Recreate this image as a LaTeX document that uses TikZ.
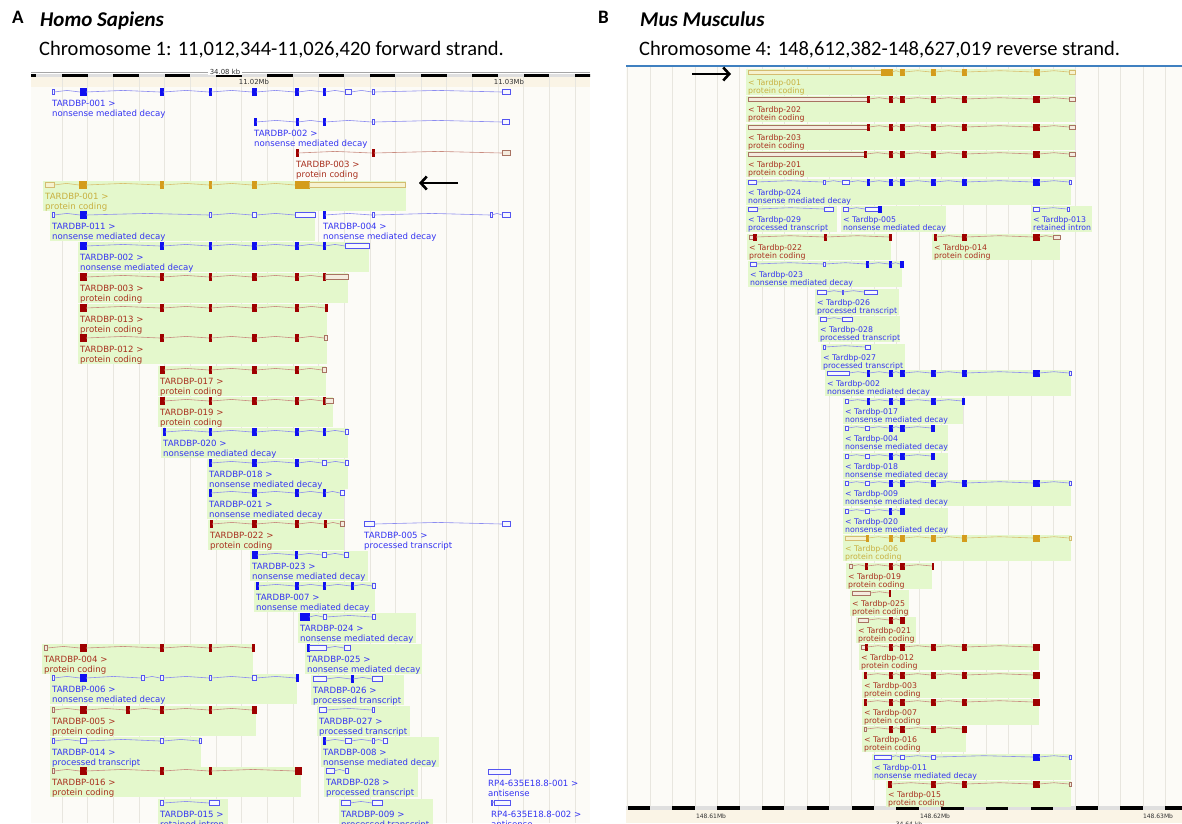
\documentclass[tikz,border=0pt]{standalone}
\usepackage{fontspec}
\setmainfont{Carlito}
\newfontfamily\ensfont{DejaVu Sans}
\usetikzlibrary{arrows.meta}
\definecolor{nmdexon}{HTML}{1010F0}
\definecolor{nmdopen}{HTML}{5454F0}
\definecolor{nmdfill}{HTML}{F6F7FF}
\definecolor{nmdintron}{HTML}{8C8CF0}
\definecolor{nmdtext}{HTML}{3434F2}
\definecolor{pcexon}{HTML}{9E0000}
\definecolor{pcopen}{HTML}{A87262}
\definecolor{pcfill}{HTML}{F4ECDF}
\definecolor{pcintron}{HTML}{C98C80}
\definecolor{pctext}{HTML}{A8301E}
\definecolor{selexon}{HTML}{D49C1C}
\definecolor{selopen}{HTML}{D4BC70}
\definecolor{selfill}{HTML}{F6F2CF}
\definecolor{selintron}{HTML}{D9C070}
\definecolor{seltext}{HTML}{C8B040}
\definecolor{hilite}{HTML}{E4F8CC}
\definecolor{panelbg}{HTML}{FCFBF7}
\definecolor{gridline}{HTML}{E8E6DF}
\definecolor{bandbg}{HTML}{FAF4E6}
\definecolor{ensblue}{HTML}{3F80C0}

% one transcript: #1 name, #2 colour key (nmd/pc/sel), #3 line y, #4 label x,
% #5 right edge of the green highlight (empty = none), #6 exons x1/x2/f|o,
% #7 transcript name, #8 biotype
\newcommand{\transcript}[8]{%
  \if\relax\detokenize{#5}\relax\else
    \fill[hilite] (#4-2,#3-\boxup) rectangle (#5,#3+\boxdn);
  \fi
  \foreach \xa/\xb/\kind [remember=\xb as \lastx (initially 0)] in {#6} {%
    \ifdim\lastx pt>0pt
      \draw[color=#2intron, line width=0.6pt] (\lastx,#3) -- ({(\lastx+\xa)/2},#3-\hatup) -- (\xa,#3);
    \fi
    \if f\kind
      \filldraw[fill=#2exon, draw=#2exon, line width=0.4pt] (\xa,#3-\fullh) rectangle (\xb,#3+\fullh);
    \else
      \filldraw[fill=#2fill, draw=#2open, line width=0.6pt] (\xa,#3-\openh) rectangle (\xb,#3+\openh);
    \fi
  }
  \node[lbl, text=#2text] (#1-name) at (#4,#3+\basea) {#7};
  \node[lbl, text=#2text] (#1-type) at (#4,#3+\baseb) {#8};
}

\begin{document}
\begin{tikzpicture}[
    x=1pt, y=-1pt,
    head/.style={anchor=base west, inner sep=0pt},
    rulerlbl/.style={inner sep=0pt, font=\ensfont\fontsize{6.9}{8}\selectfont, text=black!80},
    gridrule/.style={draw=gridline, line width=0.6pt},
    pointer/.style={-{Straight Barb[length=6pt,width=13pt]}, line width=2.6pt},
]
\fill[white] (0,0) rectangle (1182,823);
\useasboundingbox (0,0) rectangle (1182,823);

% Panel titles
\node[head, font=\bfseries\fontsize{19}{22}\selectfont] (tagA) at (12,23) {A};
\node[head, font=\bfseries\itshape\fontsize{21}{24}\selectfont] (speciesA) at (40,26) {Homo Sapiens};
\node[head, font=\fontsize{20.5}{24}\selectfont] (locusA) at (39,55) {Chromosome 1: 11,012,344-11,026,420 forward strand.};
\node[head, font=\bfseries\fontsize{19}{22}\selectfont] (tagB) at (598,23) {B};
\node[head, font=\bfseries\itshape\fontsize{21}{24}\selectfont] (speciesB) at (640,26) {Mus Musculus};
\node[head, font=\fontsize{20.5}{24}\selectfont] (locusB) at (639,55) {Chromosome 4: 148,612,382-148,627,019 reverse strand.};

% ---- LEFT: human transcripts ----
\begin{scope}[lbl/.style={anchor=base west, inner sep=0pt, font=\ensfont\fontsize{8.6}{10}\selectfont}]
\def\boxup{4}\def\boxdn{25.5}\def\fullh{3.5}\def\openh{2.5}\def\hatup{1.6}\def\basea{14}\def\baseb{24.3}
\clip (31,66) rectangle (590,823);
\fill[panelbg] (31,77) rectangle (590,823);
\fill[bandbg] (31,77) rectangle (590,87);
\foreach \k in {0,...,21} \draw[gridrule] ({62+25.65*\k},77) -- ({62+25.65*\k},823);
\draw[gray!70, line width=0.6pt] (31,72) -- (590,72);
\fill[gray!25] (31,74) rectangle (590,77);
\foreach \k in {-1,...,10} \fill[black] ({62+51.3*\k},74) rectangle ({87.65+51.3*\k},77);
\node[rulerlbl, fill=white, inner xsep=2pt] (kbA) at (225,72) {34.08 kb};
\node[rulerlbl] (mbA1) at (254,82) {11.02Mb};
\node[rulerlbl] (mbA2) at (509,82) {11.03Mb};

\transcript{l001n}{nmd}{92}{52}{}{52/54/o,80/86/f,160/163/f,209/211/f,252/256/f,295/298/f,323/325/f,345/351/o,372/374/o,502/510/o}{TARDBP-001 >}{nonsense mediated decay}
\transcript{l002n}{nmd}{122}{254}{}{254/256/f,296/298/f,323/325/f,372/374/o,502/509/o}{TARDBP-002 >}{nonsense mediated decay}
\transcript{l003n}{pc}{153}{296}{}{296/298/f,372/374/f,502/510/o}{TARDBP-003 >}{protein coding}
\transcript{l001}{sel}{185}{45}{406}{45/54/o,79/86/f,160/163/f,209/211/f,252/256/f,295/309/f,309/405/o}{TARDBP-001 >}{protein coding}
\transcript{l011}{nmd}{215}{52}{315}{52/54/o,80/86/f,209/211/o,252/256/o,295/315/o}{TARDBP-011 >}{nonsense mediated decay}
\transcript{l004n}{nmd}{215}{323}{}{323/325/f,372/374/o,490/492/o,502/510/o}{TARDBP-004 >}{nonsense mediated decay}
\transcript{l002}{nmd}{246}{80}{369}{80/86/f,160/163/f,209/211/f,252/256/f,295/298/f,323/325/f,345/369/o}{TARDBP-002 >}{nonsense mediated decay}
\transcript{l003}{pc}{277}{80}{348}{80/86/f,160/163/f,209/211/f,252/256/f,295/298/f,323/325/f,325/348/o}{TARDBP-003 >}{protein coding}
\transcript{l013}{pc}{308}{80}{327}{80/86/f,160/163/f,209/211/f,252/256/f,295/298/f,325/327/f}{TARDBP-013 >}{protein coding}
\transcript{l012}{pc}{338}{80}{327}{80/86/f,160/163/f,209/211/f,252/256/f,295/298/f,324/327/o}{TARDBP-012 >}{protein coding}
\transcript{l017}{pc}{370}{160}{326}{160/164/f,209/211/f,252/256/f,295/298/f,322/326/o}{TARDBP-017 >}{protein coding}
\transcript{l019}{pc}{401}{160}{333}{160/164/f,209/211/f,252/256/f,295/298/f,323/325/f,325/333/o}{TARDBP-019 >}{protein coding}
\transcript{l020}{nmd}{432}{163}{348}{163/165/f,209/211/f,252/256/f,295/298/f,323/325/f,345/348/o}{TARDBP-020 >}{nonsense mediated decay}
\transcript{l018}{nmd}{463}{209}{348}{209/211/f,252/256/f,295/298/f,322/326/o,345/348/o}{TARDBP-018 >}{nonsense mediated decay}
\transcript{l021}{nmd}{493}{209}{344}{209/211/f,252/256/f,295/298/f,323/325/f,340/344/o}{TARDBP-021 >}{nonsense mediated decay}
\transcript{l022}{pc}{524}{210}{344}{210/212/f,252/256/f,295/298/f,324/326/f,340/344/o}{TARDBP-022 >}{protein coding}
\transcript{l005p}{nmd}{524}{364}{}{364/374/o,502/510/o}{TARDBP-005 >}{processed transcript}
\transcript{l023}{nmd}{555}{252}{368}{252/257/f,295/297/f,322/326/o,344/348/o}{TARDBP-023 >}{nonsense mediated decay}
\transcript{l007}{nmd}{586}{256}{375}{256/258/f,295/298/f,323/325/f,351/353/f,372/375/o}{TARDBP-007 >}{nonsense mediated decay}
\transcript{l024}{nmd}{617}{300}{416}{300/309/f,323/326/o,372/375/o}{TARDBP-024 >}{nonsense mediated decay}
\transcript{l004}{pc}{648}{44}{253}{44/47/o,80/86/f,160/163/f,209/211/f,252/254/f}{TARDBP-004 >}{protein coding}
\transcript{l025}{nmd}{648}{307}{422}{307/309/f,309/326/o,344/350/o}{TARDBP-025 >}{nonsense mediated decay}
\transcript{l006}{nmd}{678}{52}{297}{52/54/o,80/86/f,141/144/o,160/163/o,209/211/o,252/256/o,296/298/f}{TARDBP-006 >}{nonsense mediated decay}
\transcript{l026}{nmd}{679}{313}{404}{313/326/o,351/353/f,372/382/o}{TARDBP-026 >}{processed transcript}
\transcript{l005}{pc}{710}{52}{256}{52/54/o,80/86/f,126/129/f,160/163/f,209/211/f,252/256/f}{TARDBP-005 >}{protein coding}
\transcript{l027}{nmd}{710}{319}{410}{319/326/o,372/374/o}{TARDBP-027 >}{processed transcript}
\transcript{l014}{nmd}{741}{52}{201}{52/54/o,80/86/o,160/163/o,199/201/o}{TARDBP-014 >}{processed transcript}
\transcript{l008}{nmd}{741}{323}{439}{323/325/f,345/351/o,372/374/o,383/387/o}{TARDBP-008 >}{nonsense mediated decay}
\transcript{l016}{pc}{771}{52}{301}{52/54/o,80/86/f,160/163/f,209/211/f,295/301/f}{TARDBP-016 >}{protein coding}
\transcript{l028}{nmd}{771}{326}{418}{326/334/o,345/348/o}{TARDBP-028 >}{processed transcript}
\transcript{rp001}{nmd}{772}{488}{}{488/510/o}{RP4-635E18.8-001 >}{antisense}
\transcript{l015}{nmd}{803}{160}{228}{160/163/o,209/219/o}{TARDBP-015 >}{retained intron}
\transcript{l009}{nmd}{803}{341}{433}{341/350/o,372/382/o}{TARDBP-009 >}{processed transcript}
\transcript{rp002}{nmd}{803}{491}{}{491/492/o,494/510/o}{RP4-635E18.8-002 >}{antisense}
\end{scope}

% ---- RIGHT: mouse transcripts ----
\begin{scope}[lbl/.style={anchor=base west, inner sep=0pt, font=\ensfont\fontsize{7.8}{9}\selectfont}]
\def\boxup{3.5}\def\boxdn{22.7}\def\fullh{2.8}\def\openh{2}\def\hatup{1.3}\def\basea{13.2}\def\baseb{21.6}
\clip (626,64) rectangle (1182,823);
\fill[panelbg] (626,67) rectangle (1182,806);
\foreach \k in {-1,...,24} \draw[gridrule] ({650+22.4*\k},67) -- ({650+22.4*\k},806);
\fill[bandbg] (626,810) rectangle (1182,823);
\fill[gray!25] (626,806) rectangle (1182,810);
\foreach \k in {0,...,12} \fill[black] ({627.6+44.8*\k},806) rectangle ({650+44.8*\k},810);
\node[rulerlbl, font=\ensfont\fontsize{6}{7}\selectfont] (mbB1) at (711,816) {148.61Mb};
\node[rulerlbl, font=\ensfont\fontsize{6}{7}\selectfont] (mbB2) at (935,816) {148.62Mb};
\node[rulerlbl, font=\ensfont\fontsize{6}{7}\selectfont] (mbB3) at (1158,816) {148.63Mb};
\node[rulerlbl, font=\ensfont\fontsize{6}{7}\selectfont] (kbB) at (909,824) {34.64 kb};

\transcript{r001}{sel}{72}{748}{1075}{748/881/o,881/892/f,900/904/f,931/935/f,962/966/f,1034/1039/f,1069/1075/o}{< Tardbp-001}{protein coding}
\transcript{r202}{pc}{99}{748}{1075}{748/867/o,867/869/f,889/892/f,900/904/f,931/935/f,962/966/f,1033/1039/f,1069/1075/o}{< Tardbp-202}{protein coding}
\transcript{r203}{pc}{127}{748}{1075}{748/867/o,867/869/f,889/892/f,900/904/f,931/935/f,962/966/f,1033/1039/f,1069/1075/o}{< Tardbp-203}{protein coding}
\transcript{r201}{pc}{154}{748}{1075}{748/864/o,864/866/f,889/892/f,900/904/f,931/935/f,962/966/f,1033/1039/f,1069/1075/o}{< Tardbp-201}{protein coding}
\transcript{r024}{nmd}{182}{748}{1071}{748/756/o,823/825/o,842/849/o,867/869/f,889/892/f,900/904/f,931/935/f,962/966/f,1033/1039/f,1069/1071/o}{< Tardbp-024}{nonsense mediated decay}
\transcript{r029}{nmd}{209}{748}{837}{748/757/o,824/833/o}{< Tardbp-029}{processed transcript}
\transcript{r005}{nmd}{209}{843}{946}{843/848/o,865/878/o,878/881/f}{< Tardbp-005}{nonsense mediated decay}
\transcript{r013}{nmd}{209}{1033}{1092}{1033/1039/o,1067/1069/o}{< Tardbp-013}{retained intron}
\transcript{r022}{pc}{237}{749}{891}{749/753/o,753/756/f,824/826/f,889/891/f}{< Tardbp-022}{protein coding}
\transcript{r014}{pc}{237}{934}{1060}{934/936/f,962/966/f,1033/1039/f,1053/1060/o}{< Tardbp-014}{protein coding}
\transcript{r023}{nmd}{264}{750}{902}{750/756/o,823/825/o,866/868/f,889/891/f,900/903/f}{< Tardbp-023}{nonsense mediated decay}
\transcript{r026}{nmd}{292}{817}{899}{817/826/o,842/843/o,864/877/o}{< Tardbp-026}{processed transcript}
\transcript{r028}{nmd}{319}{820}{900}{820/826/o,842/852/o}{< Tardbp-028}{processed transcript}
\transcript{r027}{nmd}{347}{823}{905}{823/825/o,865/870/o}{< Tardbp-027}{processed transcript}
\transcript{r002}{nmd}{373}{827}{1071}{827/849/o,867/869/f,889/892/f,900/904/f,931/935/f,962/966/f,1033/1039/f,1069/1071/o}{< Tardbp-002}{nonsense mediated decay}
\transcript{r017}{nmd}{401}{845}{963}{845/848/o,867/869/f,889/892/f,900/904/f,931/935/f,962/964/f}{< Tardbp-017}{nonsense mediated decay}
\transcript{r004}{nmd}{428}{845}{948}{845/848/o,865/869/o,889/892/f,900/904/f,931/934/f}{< Tardbp-004}{nonsense mediated decay}
\transcript{r018}{nmd}{456}{845}{948}{845/848/o,865/869/o,889/892/f,900/904/f,931/934/f}{< Tardbp-018}{nonsense mediated decay}
\transcript{r009}{nmd}{483}{845}{1071}{845/848/o,865/869/o,889/892/f,900/904/f,931/935/f,962/966/f,1033/1039/f,1069/1071/o}{< Tardbp-009}{nonsense mediated decay}
\transcript{r020}{nmd}{511}{845}{948}{845/848/o,865/869/o,889/891/f,900/904/f}{< Tardbp-020}{nonsense mediated decay}
\transcript{r006}{sel}{538}{845}{1071}{845/866/o,866/868/f,889/892/f,900/904/f,931/935/f,962/966/f,1033/1039/f,1069/1071/o}{< Tardbp-006}{protein coding}
\transcript{r019}{pc}{566}{848}{932}{849/852/o,865/867/f,889/892/f,900/904/f,932/933/f}{< Tardbp-019}{protein coding}
\transcript{r025}{pc}{593}{852}{909}{852/870/o,889/890/f}{< Tardbp-025}{protein coding}
\transcript{r021}{pc}{620}{858}{916}{858/868/o,889/892/f,900/904/f}{< Tardbp-021}{protein coding}
\transcript{r012}{pc}{647}{861}{1039}{861/865/o,865/867/f,889/892/f,900/904/f,931/935/f,962/966/f,1033/1039/f}{< Tardbp-012}{protein coding}
\transcript{r003}{pc}{675}{864}{1039}{864/866/f,889/892/f,900/904/f,931/935/f,962/966/f,1033/1039/f}{< Tardbp-003}{protein coding}
\transcript{r007}{pc}{702}{864}{1039}{864/866/f,889/892/f,900/904/f,931/935/f,962/966/f,1033/1039/f}{< Tardbp-007}{protein coding}
\transcript{r016}{pc}{729}{864}{966}{864/866/o,889/892/f,900/904/f,931/935/f,962/966/f}{< Tardbp-016}{protein coding}
\transcript{r011}{nmd}{757}{874}{1071}{874/891/o,900/904/o,931/935/o,1033/1039/f,1069/1071/o}{< Tardbp-011}{nonsense mediated decay}
\transcript{r015}{pc}{784}{888}{1071}{888/891/f,931/935/f,962/966/f,1033/1039/f,1069/1071/o}{< Tardbp-015}{protein coding}

\draw[ensblue, line width=2.5pt] (626,66) -- (1182,66);
\end{scope}

% ---- Pointers to the canonical transcripts ----
\coordinate (arrowAtail) at (458,183);
\coordinate (arrowAhead) at (419,183);
\coordinate (arrowBtail) at (692,74);
\coordinate (arrowBhead) at (731,74);
\draw[pointer] (arrowAtail) -- (arrowAhead);
\draw[pointer] (arrowBtail) -- (arrowBhead);
\end{tikzpicture}
\end{document}
